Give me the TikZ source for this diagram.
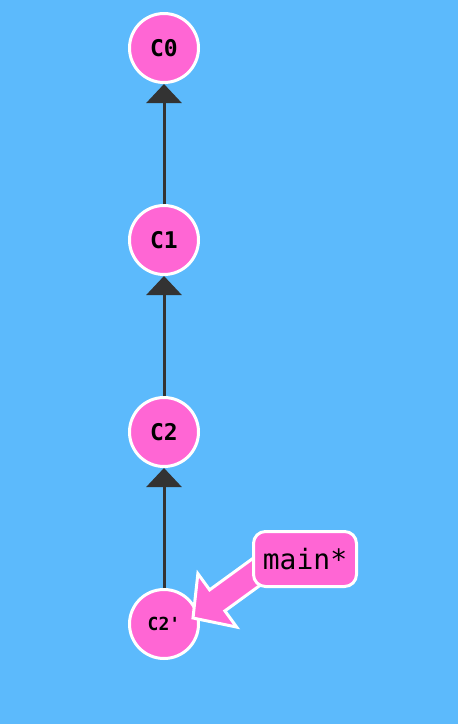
\documentclass[tikz,border=0pt]{standalone}
\usepackage{fontspec}
\setmonofont{DejaVu Sans Mono}
\usetikzlibrary{positioning,arrows.meta,calc}
\definecolor{bgblue}{RGB}{92,186,252}
\definecolor{cpink}{RGB}{255,102,212}
\definecolor{edgegray}{RGB}{51,51,51}
\begin{document}
\begin{tikzpicture}[
  commit/.style={circle, draw=white, fill=cpink, line width=3pt, minimum size=69pt, inner sep=0pt,
    font=\ttfamily\bfseries\fontsize{23}{23}\selectfont},
  parent/.style={draw=edgegray, line width=3pt, -{Triangle[width=35pt,length=19pt]}},
  pointer/.style={fill=cpink, draw=white, line width=3pt, line join=miter},
  branch/.style={rectangle, rounded corners=12pt, draw=white, fill=cpink, line width=3pt,
    minimum width=103pt, minimum height=55pt, font=\ttfamily\fontsize{28}{28}\selectfont},
  node distance=120pt]
\fill[bgblue] (0,0) rectangle (458pt,-724pt);
\useasboundingbox (0,0) rectangle (458pt,-724pt);
\node[commit] (C0) at (164pt,-48pt) {C0};
\node[commit] (C1) [below=of C0] {C1};
\node[commit] (C2) [below=of C1] {C2};
\node[commit, font=\ttfamily\bfseries\fontsize{18}{18}\selectfont] (C2p) [below=of C2] {C2\textquotesingle};
\draw[parent] (C1) -- (C0);
\draw[parent] (C2) -- (C1);
\draw[parent] (C2p) -- (C2);
% branch pointer
\coordinate (ptip) at ([shift={(-7pt,6pt)}]C2p.east);
\begin{scope}[shift={(ptip)}, rotate=36]
\filldraw[pointer] (0,0) -- (30pt,33pt) -- (30pt,13pt) -- (100pt,13pt) -- (100pt,-13pt) -- (30pt,-13pt) -- (30pt,-33pt) -- cycle;
\end{scope}
\node[branch] (main) at ([shift={(141pt,65pt)}]C2p) {main*};
\end{tikzpicture}
\end{document}
